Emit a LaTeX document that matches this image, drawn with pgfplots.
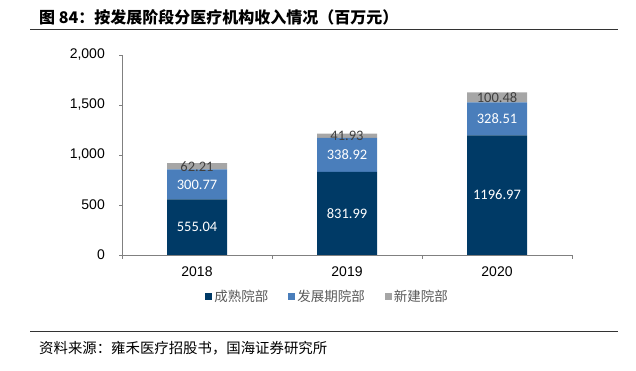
\documentclass[border=0pt]{standalone}
\usepackage{pgfplots}
\pgfplotsset{compat=1.18}
\usepackage{fontspec}
\setmainfont{Liberation Sans}
\newfontfamily\cjk{Noto Sans CJK SC}
\newfontfamily\carl{Carlito}
\definecolor{c1}{HTML}{003A66}
\definecolor{c2}{HTML}{4A7EBB}
\definecolor{c3}{HTML}{A6A6A6}
\definecolor{axc}{HTML}{808080}
\definecolor{lgt}{HTML}{595959}
\tikzset{lab/.style={font=\carl\fontsize{14.5}{14.5}\selectfont, inner sep=0pt}}
\begin{document}
\begin{tikzpicture}
\useasboundingbox (0pt,0pt) rectangle (636pt,371pt);
\node[anchor=west, inner sep=0pt] at (39pt,354pt) {\fontsize{16}{16}\selectfont\cjk\bfseries 图 84：按发展阶段分医疗机构收入情况（百万元）};
\draw[line width=1.2pt, color=black!80] (30pt,341.5pt) -- (618pt,341.5pt);
\draw[line width=1pt, color=black!80] (30pt,39pt) -- (618pt,39pt);
\node[anchor=west, inner sep=0pt] at (39pt,23pt) {\fontsize{14.4}{14.4}\selectfont\cjk 资料来源：雍禾医疗招股书，国海证券研究所};
\begin{axis}[
  at={(122pt,116pt)}, anchor=south west,
  scale only axis, width=450pt, height=200pt,
  ybar stacked, bar width=60pt,
  xmin=-0.5, xmax=2.5, ymin=0, ymax=2000,
  axis lines*=left,
  axis line style={color=axc, line width=0.8pt},
  xtick={0,1,2}, xticklabels={2018,2019,2020},
  major x tick style={draw=none},
  minor xtick={-0.5,0.5,1.5,2.5},
  minor x tick style={color=axc, line width=0.8pt},
  minor tick length=4pt,
  ytick={0,500,1000,1500,2000},
  major y tick style={color=axc, line width=0.8pt},
  major tick length=3pt,
  tick align=outside,
  /pgf/number format/.cd, 1000 sep={,}, assume math mode=true, /pgfplots/.cd,
  ticklabel style={font=\fontsize{14}{14}\selectfont},
  yticklabel style={inner sep=0pt, xshift=-14pt},
  xticklabel style={inner sep=0pt, yshift=-9pt},
  legend style={at={(0.4567,-0.21)}, anchor=center, draw=none, fill=none,
    legend columns=3, font=\cjk\fontsize{13.5}{13.5}\selectfont, text=lgt,
    /tikz/every even column/.append style={column sep=18pt},
    legend cell align=left, inner sep=0pt},
  legend image code/.code={\fill[#1] (0pt,-3.5pt) rectangle (7pt,3.5pt);},
  clip=false,
  after end axis/.code={
    \node[lab, white] at (axis cs:0,277.52) {555.04};
    \node[lab, white] at (axis cs:0,705.43) {300.77};
    \node[lab, black!75] at (axis cs:0,886.92) {62.21};
    \node[lab, white] at (axis cs:1,416.00) {831.99};
    \node[lab, white] at (axis cs:1,1001.45) {338.92};
    \node[lab, black!75] at (axis cs:1,1191.88) {41.93};
    \node[lab, white] at (axis cs:2,598.49) {1196.97};
    \node[lab, white] at (axis cs:2,1361.23) {328.51};
    \node[lab, black!75] at (axis cs:2,1575.72) {100.48};
  },
]
\addplot[fill=c1, draw=none] coordinates {(0,555.04) (1,831.99) (2,1196.97)};
\addplot[fill=c2, draw=none] coordinates {(0,300.77) (1,338.92) (2,328.51)};
\addplot[fill=c3, draw=none] coordinates {(0,62.21) (1,41.93) (2,100.48)};
\legend{成熟院部,发展期院部,新建院部}
\end{axis}
\end{tikzpicture}
\end{document}
